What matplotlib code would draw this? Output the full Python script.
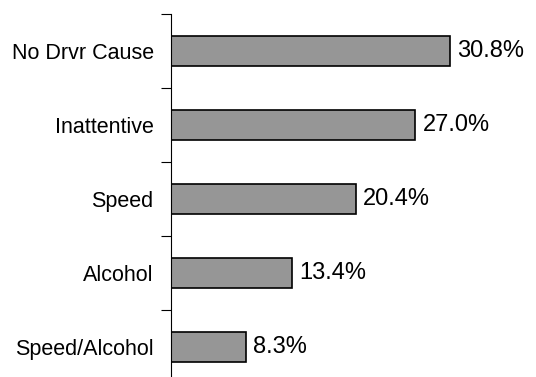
import matplotlib.pyplot as plt

plt.rcParams['font.family'] = ['Liberation Sans', 'DejaVu Sans']

causes = ["No Drvr Cause", "Inattentive", "Speed", "Alcohol", "Speed/Alcohol"]
shares = [30.8, 27.0, 20.4, 13.4, 8.3]

fig = plt.figure(figsize=(5.36, 3.77), dpi=100)
ax = fig.add_axes([171 / 536, -7 / 377, 362 / 536, 370 / 377])

ypos = list(range(len(causes)))
ax.barh(ypos, shares, height=0.41, color="#969696", edgecolor="black", linewidth=1.2)

for y, v in zip(ypos, shares):
    ax.text(v + 0.8, y, f"{v:.1f}%", va="center", ha="left", fontsize=17)

ax.set_xlim(0, 40)
ax.set_ylim(len(causes) - 0.5, -0.5)

# category names sit between the tick marks
ax.set_yticks([i - 0.5 for i in range(len(causes) + 1)])
ax.set_yticklabels([])
ax.tick_params(axis="y", which="major", length=7, width=0.8, direction="out")
ax.set_yticks(ypos, minor=True)
ax.set_yticklabels(causes, minor=True, fontsize=15.5)
ax.tick_params(axis="y", which="minor", length=0, pad=12.5)

ax.set_xticks([])
for side in ["top", "right", "bottom"]:
    ax.spines[side].set_visible(False)
ax.spines["left"].set_linewidth(0.8)

fig.savefig("out.png", dpi=100)
